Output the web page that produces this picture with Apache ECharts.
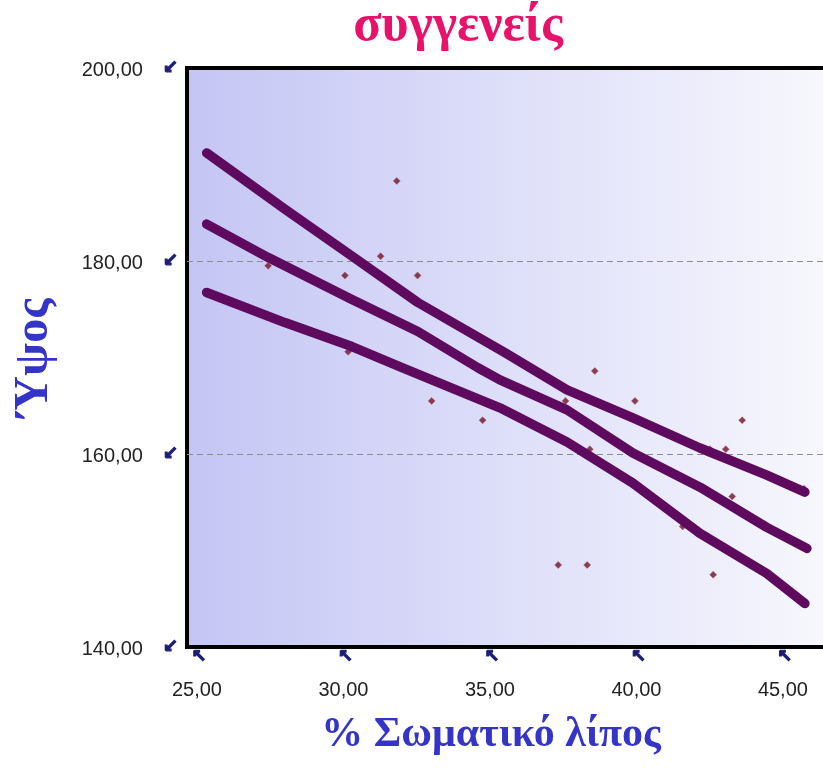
<!DOCTYPE html>
<html>
<head>
<meta charset="utf-8">
<title>συγγενείς</title>
<script src="https://cdn.jsdelivr.net/npm/echarts@6/dist/echarts.min.js"></script>
<style>
  html, body { margin: 0; padding: 0; background: #ffffff; }
  #chart { width: 823px; height: 768px; }
</style>
</head>
<body>
<div id="chart"></div>
<script>
// Tick values shown on each axis
const xTicks = [25, 30, 35, 40, 45];
const yTicks = [140, 160, 180, 200];

// Observations: body fat % (x) and height (y)
const pointsX = [27.43, 30.05, 30.16, 31.27, 31.82, 32.53, 33.01, 34.75, 37.33, 37.58,
                 38.32, 38.41, 38.58, 38.68, 39.95, 41.58, 42.51, 42.62, 43.05, 43.27,
                 43.61, 45.72];
const pointsY = [179.5, 178.5, 170.6, 180.5, 188.3, 178.5, 165.5, 163.5, 148.5, 165.5,
                 148.5, 160.5, 168.6, 162.6, 165.5, 152.5, 160.5, 147.5, 160.5, 155.6,
                 163.5, 156.4];

// Fitted line and the two band curves
const midX = [25.33, 27.42, 30.29, 32.54, 34.59, 35.34, 37.63, 39.88, 42.17, 44.45, 45.82];
const midY = [183.82, 180.38, 176.02, 172.69, 168.94, 167.69, 164.57, 160.10, 156.56, 152.40, 150.22];

const upperX = [25.33, 28.00, 30.28, 32.54, 35.51, 37.63, 39.88, 42.17, 44.45, 45.75];
const upperY = [191.20, 185.38, 180.52, 175.70, 170.50, 166.65, 163.74, 160.62, 157.81, 156.05];

const lowerX = [25.33, 28.00, 30.29, 32.00, 35.34, 37.63, 39.88, 42.17, 44.45, 45.75];
const lowerY = [176.74, 173.62, 171.13, 168.95, 164.79, 161.25, 156.98, 151.78, 147.62, 144.50];

const zip = (xs, ys) => xs.map((x, i) => [x, ys[i]]);
const fmt = v => v.toFixed(2).replace('.', ',');

const bandColor = '#5e0b5f';
const titleBlue = '#3434c8';
const arrowColor = '#1c1c78';

const chart = echarts.init(document.getElementById('chart'), null, { renderer: 'canvas' });

const bandSeries = (name, xs, ys) => ({
  name,
  type: 'line',
  data: zip(xs, ys),
  symbol: 'none',
  smooth: false,
  z: 3,
  lineStyle: { color: bandColor, width: 9.5, cap: 'round', join: 'round' }
});

// Small arrow markers next to every tick label
const arrowStyle = {
  fontFamily: '"DejaVu Sans", sans-serif',
  fontWeight: 'bold',
  fontSize: 18,
  color: arrowColor,
  textBorderColor: arrowColor,
  textBorderWidth: 1.2
};

chart.setOption({
  animation: false,
  backgroundColor: '#ffffff',
  title: [
    {
      text: 'συγγενείς',
      left: 453,
      top: -4,
      textAlign: 'center',
      textStyle: {
        fontFamily: '"Liberation Serif", serif',
        fontWeight: 'bold',
        fontSize: 52,
        color: '#e8126a'
      }
    },
    {
      text: '% Σωματικό λίπος',
      left: 486,
      top: 709,
      textAlign: 'center',
      textStyle: {
        fontFamily: '"Liberation Serif", serif',
        fontWeight: 'bold',
        fontSize: 42,
        color: titleBlue
      }
    }
  ],
  graphic: [
    {
      type: 'text',
      x: 35,
      y: 358,
      rotation: Math.PI / 2,
      style: {
        text: 'Ύψος',
        font: 'bold 48px "Liberation Serif", serif',
        fill: titleBlue,
        textAlign: 'center',
        textVerticalAlign: 'middle'
      }
    }
  ],
  grid: {
    show: true,
    left: 187,
    right: -10,
    top: 68,
    bottom: 121,
    outerBoundsMode: 'none',
    containLabel: false,
    borderColor: '#000000',
    borderWidth: 4,
    backgroundColor: new echarts.graphic.LinearGradient(0, 0, 1, 0, [
      { offset: 0, color: '#c4c5f4' },
      { offset: 0.5, color: '#dedff9' },
      { offset: 1, color: '#f8f8fd' }
    ])
  },
  xAxis: {
    type: 'value',
    min: 24.66,
    max: 46.71,
    axisLine: { show: false },
    axisTick: { show: false },
    splitLine: { show: false },
    axisLabel: {
      customValues: xTicks,
      margin: 1,
      formatter: v => '{a|↖}\n{v|' + fmt(v) + '}',
      rich: {
        a: Object.assign({ lineHeight: 18, padding: [0, 0, 0, 4] }, arrowStyle),
        v: { fontFamily: '"Liberation Sans", Arial, sans-serif', fontSize: 20, color: '#222222', lineHeight: 48 }
      }
    }
  },
  yAxis: {
    type: 'value',
    min: 140,
    max: 200,
    interval: 20,
    axisLine: { show: false },
    axisTick: { show: false },
    splitLine: {
      show: true,
      showMinLine: false,
      showMaxLine: false,
      lineStyle: { color: '#8c8c8c', type: [6, 4], width: 1 }
    },
    axisLabel: {
      margin: 9,
      formatter: v => '{v|' + fmt(v) + '}{a|↙}',
      rich: {
        v: { fontFamily: '"Liberation Sans", Arial, sans-serif', fontSize: 20, color: '#222222', padding: [4, 0, 0, 0] },
        a: Object.assign({ padding: [0, 0, 0, 20] }, arrowStyle)
      }
    }
  },
  series: [
    {
      name: 'observations',
      type: 'scatter',
      data: zip(pointsX, pointsY),
      symbol: 'diamond',
      symbolSize: 7,
      z: 2,
      itemStyle: { color: '#6a1430', borderColor: '#c0504d', borderWidth: 0.6 }
    },
    bandSeries('upper', upperX, upperY),
    bandSeries('fit', midX, midY),
    bandSeries('lower', lowerX, lowerY)
  ]
});
</script>
</body>
</html>
